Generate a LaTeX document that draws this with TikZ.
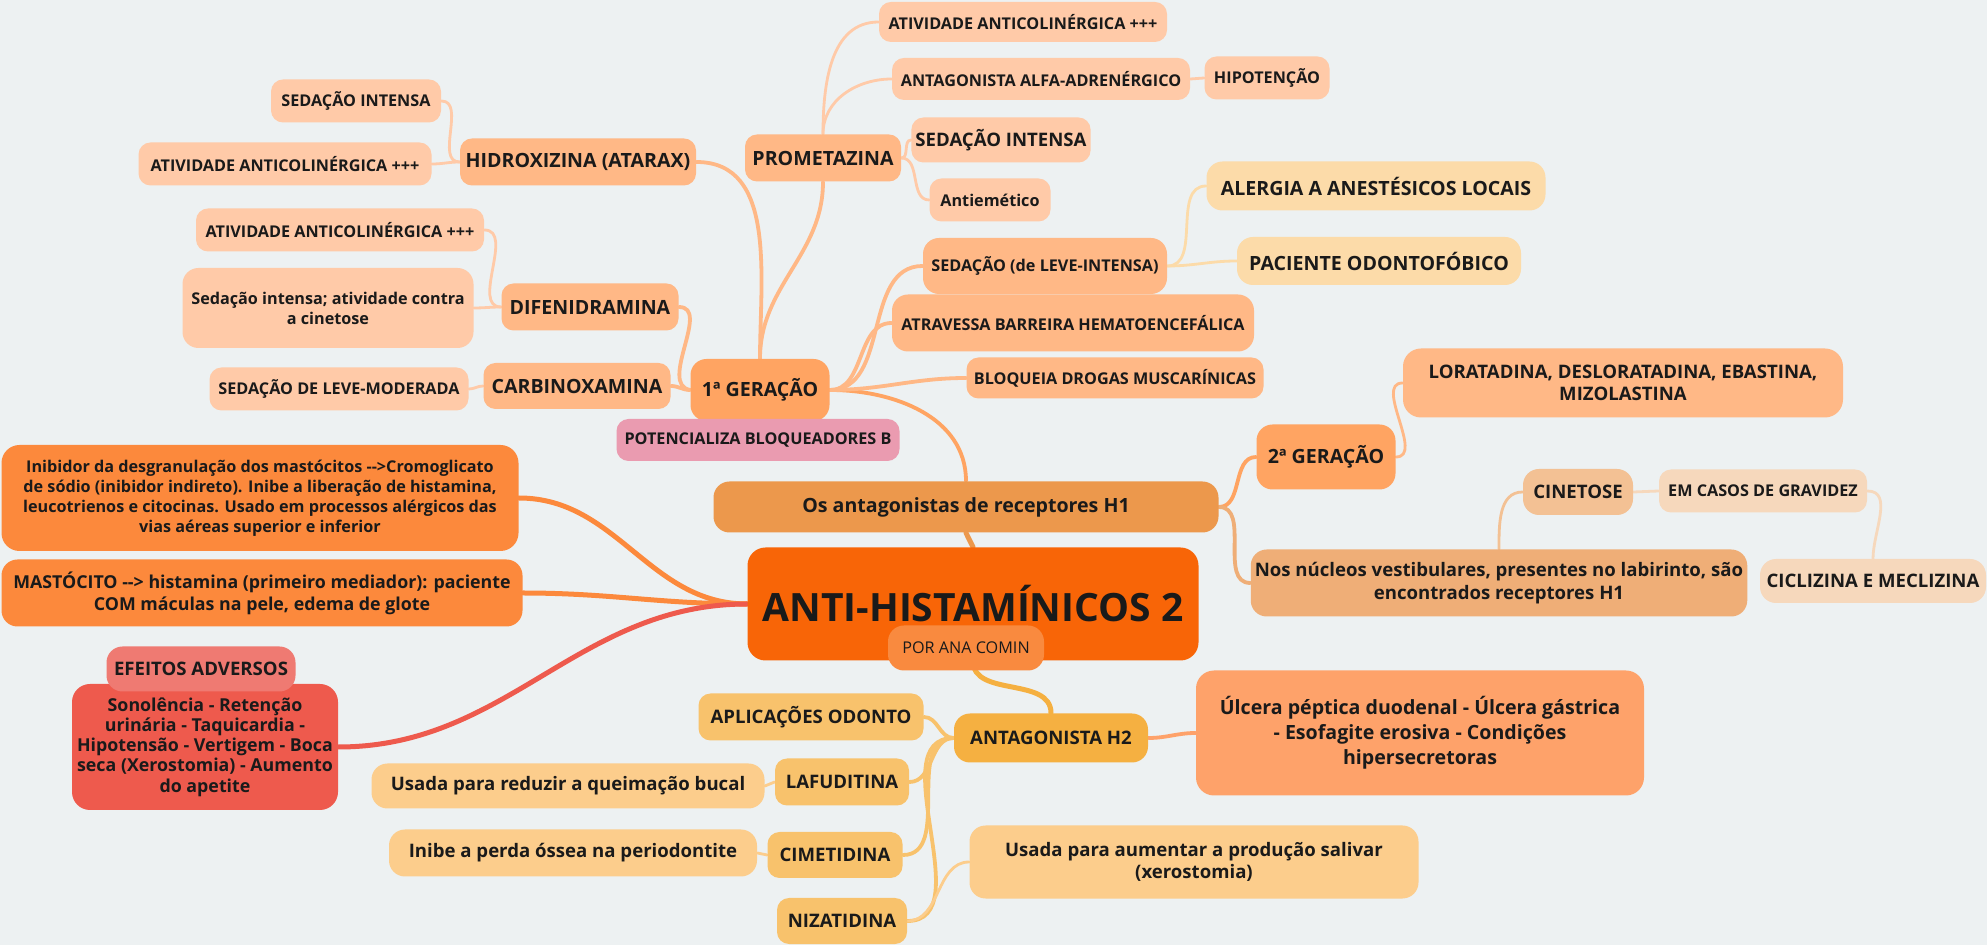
\documentclass[tikz,border=0pt]{standalone}
\usepackage{fontspec}
\setmainfont{Open Sans}
\usetikzlibrary{positioning}

\definecolor{bgCol}{HTML}{EDF1F2}
\definecolor{ink}{HTML}{1A1A1A}
\definecolor{coreCol}{HTML}{F86507}
\definecolor{autorCol}{HTML}{F98A3F}
\definecolor{h1Col}{HTML}{EC984C}
\definecolor{genCol}{HTML}{FFA462}
\definecolor{twigCol}{HTML}{FFB886}
\definecolor{leafCol}{HTML}{FFCAA8}
\definecolor{alerCol}{HTML}{FCDBA9}
\definecolor{poteCol}{HTML}{EA9BB0}
\definecolor{nucCol}{HTML}{EFAE77}
\definecolor{cineCol}{HTML}{F3C194}
\definecolor{gravCol}{HTML}{F6D8BC}
\definecolor{mastCol}{HTML}{FC893C}
\definecolor{efeiCol}{HTML}{EF7A72}
\definecolor{sonoCol}{HTML}{EE5A4D}
\definecolor{h2Col}{HTML}{F5B041}
\definecolor{drugCol}{HTML}{F8C26C}
\definecolor{useCol}{HTML}{FCCD8C}
\definecolor{ulcCol}{HTML}{FEA26A}

\newcommand{\mmSmall}{\fontsize{8.1}{10}\selectfont}
\newcommand{\mmMid}{\fontsize{9.3}{11.3}\selectfont}
\newcommand{\mmBig}{\fontsize{9.8}{12.4}\selectfont}
\newcommand{\mmTitle}{\fontsize{19.5}{22}\selectfont}

\pgfdeclarelayer{back}
\pgfdeclarelayer{links}
\pgfsetlayers{back,links,main}

\begin{document}
\begin{tikzpicture}[
  x=0.5pt,y=0.5pt,
  box/.style={rounded corners=6pt,inner sep=2pt,align=center,text=ink,font=\bfseries\mmSmall,minimum height=21.5pt},
  leaf/.style={box,fill=leafCol},
  twig/.style={box,fill=twigCol},
  gen/.style={box,fill=genCol,font=\bfseries\mmBig,rounded corners=8pt},
  drug/.style={box,fill=drugCol,font=\bfseries\mmMid,minimum height=23.5pt},
  usebox/.style={box,fill=useCol,font=\bfseries\mmMid,minimum height=23pt,rounded corners=8pt},
  tie/.style={line width=1.4pt,line cap=round},
  bough/.style={line width=1.9pt,line cap=round},
  trunk/.style={line width=2.5pt,line cap=round}
]
\begin{pgfonlayer}{back}
\fill[bgCol] (0,0) rectangle (1987,-945);
\end{pgfonlayer}
\useasboundingbox (0,0) rectangle (1987,-945);

% primeira geracao, lado esquerdo
\node[leaf,minimum width=85pt] (hidSed) at (356,-101) {SEDAÇÃO INTENSA};
\node[leaf,minimum width=146.5pt] (hidAti) at (285,-164) {ATIVIDADE ANTICOLINÉRGICA +++};
\node[leaf,minimum width=144pt] (difAti) at (340,-230) {ATIVIDADE ANTICOLINÉRGICA +++};
\node[leaf,minimum width=145.5pt,minimum height=40pt,rounded corners=8pt] (difSed) at (328,-308) {Sedação intensa; atividade contra\\a cinetose};
\node[leaf,minimum width=129.5pt] (carSed) at (339,-389) {SEDAÇÃO DE LEVE-MODERADA};
\node[twig,font=\bfseries\mmBig,minimum width=118pt,minimum height=23.5pt] (hidro) at (578,-162) {HIDROXIZINA (ATARAX)};
\node[twig,font=\bfseries\mmBig,minimum width=88.5pt,minimum height=23.5pt] (difen) at (590,-307) {DIFENIDRAMINA};
\node[twig,font=\bfseries\mmBig,minimum width=93.5pt,minimum height=23pt] (carbi) at (577,-386) {CARBINOXAMINA};

% prometazina
\node[twig,font=\bfseries\mmBig,minimum width=78pt,minimum height=23.5pt] (prome) at (823,-158) {PROMETAZINA};
\node[leaf,minimum width=144pt,minimum height=20pt] (proAti) at (1023,-22) {ATIVIDADE ANTICOLINÉRGICA +++};
\node[leaf,minimum width=149pt,minimum height=21pt] (proAlfa) at (1041,-79) {ANTAGONISTA ALFA-ADRENÉRGICO};
\node[leaf,minimum width=62.5pt] (hipo) at (1267,-78) {HIPOTENÇÃO};
\node[leaf,font=\bfseries\mmMid,minimum width=88.5pt,minimum height=22.5pt] (proSed) at (1001,-140) {SEDAÇÃO INTENSA};
\node[leaf,minimum width=60.5pt] (proEme) at (990,-200) {Antiemético};

% primeira geracao, lado direito
\node[twig,minimum width=122pt,minimum height=28pt,rounded corners=8pt] (sedLeve) at (1045,-266) {SEDAÇÃO (de LEVE-INTENSA)};
\node[twig,minimum width=181pt,minimum height=28.5pt,rounded corners=8pt] (atrav) at (1073,-323) {ATRAVESSA BARREIRA HEMATOENCEFÁLICA};
\node[twig,minimum width=148.5pt,minimum height=20.5pt] (bloq) at (1115,-378) {BLOQUEIA DROGAS MUSCARÍNICAS};
\node[box,fill=alerCol,font=\bfseries\mmBig,minimum width=169.5pt,minimum height=24.5pt,rounded corners=8pt] (alerg) at (1376,-186) {ALERGIA A ANESTÉSICOS LOCAIS};
\node[box,fill=alerCol,font=\bfseries\mmBig,minimum width=142pt,minimum height=24pt,rounded corners=8pt] (pacie) at (1379,-261) {PACIENTE ODONTOFÓBICO};

\node[gen,minimum width=69.5pt,minimum height=31pt] (ger1) at (760,-390) {1ª GERAÇÃO};
\node[box,fill=poteCol,minimum width=141.5pt,minimum height=21pt] (poten) at (758,-440) {POTENCIALIZA BLOQUEADORES B};

% antagonistas H1
\node[box,fill=h1Col,font=\bfseries\mmBig,minimum width=252.5pt,minimum height=25.5pt,rounded corners=8pt] (h1) at (966,-507) {Os antagonistas de receptores H1};
\node[gen,minimum width=69.5pt,minimum height=32.5pt] (ger2) at (1326,-457) {2ª GERAÇÃO};
\node[twig,font=\bfseries\mmMid,minimum width=220pt,minimum height=34.5pt,rounded corners=9pt] (lorat) at (1623,-383) {LORATADINA, DESLORATADINA, EBASTINA,\\MIZOLASTINA};
\node[box,fill=nucCol,font=\bfseries\mmMid,minimum width=247pt,minimum height=33.5pt,rounded corners=8pt] (nucleos) at (1499,-583) {Nos núcleos vestibulares, presentes no labirinto, são\\encontrados receptores H1};
\node[box,fill=cineCol,font=\bfseries\mmMid,minimum width=55pt,minimum height=23pt,rounded corners=8pt] (cine) at (1578,-492) {CINETOSE};
\node[box,fill=gravCol,minimum width=104pt] (gravi) at (1763,-491) {EM CASOS DE GRAVIDEZ};
\node[box,fill=gravCol,font=\bfseries\mmMid,minimum width=113pt,minimum height=22pt,rounded corners=8pt] (cicli) at (1873,-581) {CICLIZINA E MECLIZINA};

% centro
\node[box,fill=coreCol,font=\bfseries\mmTitle,minimum width=225.5pt,minimum height=56.5pt,rounded corners=9pt] (core) at (973,-604) {ANTI-HISTAMÍNICOS 2};
\node[box,fill=autorCol,font=\mmSmall,minimum width=78pt,minimum height=22.5pt,rounded corners=8pt] (autor) at (966,-648) {POR ANA COMIN};

% lado esquerdo do centro
\node[box,fill=mastCol,minimum width=258.5pt,minimum height=53pt,rounded corners=9pt] (inib) at (260,-498) {Inibidor da desgranulação dos mastócitos -{}->Cromoglicato\\de sódio (inibidor indireto). Inibe a liberação de histamina,\\leucotrienos e citocinas. Usado em processos alérgicos das\\vias aéreas superior e inferior};
\node[box,fill=mastCol,font=\bfseries\fontsize{8.9}{10.9}\selectfont,minimum width=260.5pt,minimum height=33.5pt,rounded corners=8pt] (mast) at (262,-593) {MASTÓCITO -{}-> histamina (primeiro mediador): paciente\\COM máculas na pele, edema de glote};
\node[box,fill=sonoCol,font=\bfseries\fontsize{8.9}{10.1}\selectfont,minimum width=133pt,minimum height=63pt,rounded corners=9pt] (sono) at (205,-747) {Sonolência - Retenção\\urinária - Taquicardia -\\Hipotensão - Vertigem - Boca\\seca (Xerostomia) - Aumento\\do apetite};
\node[box,fill=efeiCol,font=\bfseries\mmMid,minimum width=94.5pt,minimum height=22.5pt,rounded corners=8pt] (efeit) at (201,-669) {EFEITOS ADVERSOS};

% antagonista H2
\node[box,fill=h2Col,font=\bfseries\mmMid,minimum width=97pt,minimum height=24.5pt,rounded corners=8pt] (h2) at (1051,-738) {ANTAGONISTA H2};
\node[box,fill=ulcCol,font=\bfseries\mmBig,minimum width=224pt,minimum height=62.5pt,rounded corners=9pt] (ulcer) at (1420,-733) {Úlcera péptica duodenal - Úlcera gástrica\\- Esofagite erosiva - Condições\\hipersecretoras};
\node[drug,minimum width=112.5pt] (aplic) at (811,-717) {APLICAÇÕES ODONTO};
\node[drug,minimum width=67pt] (lafu) at (842,-782) {LAFUDITINA};
\node[drug,minimum width=67.5pt,minimum height=23pt] (cime) at (835,-855) {CIMETIDINA};
\node[drug,minimum width=65pt,minimum height=23pt] (niza) at (842,-921) {NIZATIDINA};
\node[usebox,minimum width=196.5pt,minimum height=22.5pt] (usaRed) at (568,-786) {Usada para reduzir a queimação bucal};
\node[usebox,minimum width=184pt,minimum height=23.5pt] (inibe) at (573,-853) {Inibe a perda óssea na periodontite};
\node[usebox,minimum width=224.5pt,minimum height=36.5pt] (usaAum) at (1194,-862) {Usada para aumentar a produção salivar\\(xerostomia)};

\begin{pgfonlayer}{links}
% ramos do centro
\draw[trunk,h1Col] (core.north) -- (h1.south);
\draw[trunk,mastCol] (core.west) to[out=180,in=0] (inib.east);
\draw[trunk,mastCol] (core.west) to[out=180,in=0] (mast.east);
\draw[trunk,sonoCol] (core.west) to[out=180,in=0] (sono.east);
\draw[trunk,h2Col] (core.south) to[out=-90,in=90] (h2.north);
% H1
\draw[bough,genCol] (h1.north) to[out=90,in=0] (ger1.east);
\draw[bough,genCol] (h1.east) to[out=0,in=180] (ger2.west);
\draw[bough,nucCol] (h1.east) to[out=0,in=180] (nucleos.west);
\draw[tie,twigCol] (ger2.east) to[out=0,in=180] (lorat.west);
\draw[tie,cineCol] (nucleos.north) to[out=90,in=180] (cine.west);
\draw[tie,gravCol] (cine.east) -- (gravi.west);
\draw[tie,gravCol] (gravi.east) to[out=0,in=90] (cicli.north);
% primeira geracao
\draw[bough,twigCol] (ger1.north) to[out=90,in=0] (hidro.east);
\draw[bough,twigCol] (ger1.north) to[out=90,in=-90] (prome.south);
\draw[bough,twigCol] (ger1.west) to[out=170,in=0] (difen.east);
\draw[bough,twigCol] (ger1.west) to[out=180,in=0] (carbi.east);
\draw[bough,twigCol] (ger1.east) to[out=0,in=180] (sedLeve.west);
\draw[bough,twigCol] (ger1.east) to[out=0,in=180] (atrav.west);
\draw[bough,twigCol] (ger1.east) to[out=0,in=180] (bloq.west);
\draw[tie,leafCol] (hidro.west) to[out=180,in=0] (hidSed.east);
\draw[tie,leafCol] (hidro.west) to[out=180,in=0] (hidAti.east);
\draw[tie,leafCol] (difen.west) to[out=180,in=0] (difAti.east);
\draw[tie,leafCol] (difen.west) to[out=180,in=0] (difSed.east);
\draw[tie,leafCol] (carbi.west) to[out=180,in=0] (carSed.east);
\draw[tie,leafCol] (prome.north) to[out=90,in=180] (proAti.west);
\draw[tie,leafCol] (prome.north) to[out=90,in=180] (proAlfa.west);
\draw[tie,leafCol] (prome.east) to[out=0,in=180] (proSed.west);
\draw[tie,leafCol] (prome.east) to[out=0,in=180] (proEme.west);
\draw[tie,leafCol] (proAlfa.east) -- (hipo.west);
\draw[tie,alerCol] (sedLeve.east) to[out=0,in=180] (alerg.west);
\draw[tie,alerCol] (sedLeve.east) to[out=0,in=180] (pacie.west);
% H2
\draw[bough,ulcCol] (h2.east) to[out=0,in=180] (ulcer.west);
\draw[bough,drugCol] (h2.west) to[out=180,in=0] (aplic.east);
\draw[bough,drugCol] (h2.west) to[out=180,in=0] (lafu.east);
\draw[bough,drugCol] (h2.west) to[out=180,in=0] (cime.east);
\draw[bough,drugCol] (h2.west) to[out=180,in=0] (niza.east);
\draw[tie,useCol] (niza.east) to[out=0,in=180] (usaAum.west);
\draw[tie,useCol] (lafu.west) -- (usaRed.east);
\draw[tie,useCol] (cime.west) -- (inibe.east);
\end{pgfonlayer}
\end{tikzpicture}
\end{document}
